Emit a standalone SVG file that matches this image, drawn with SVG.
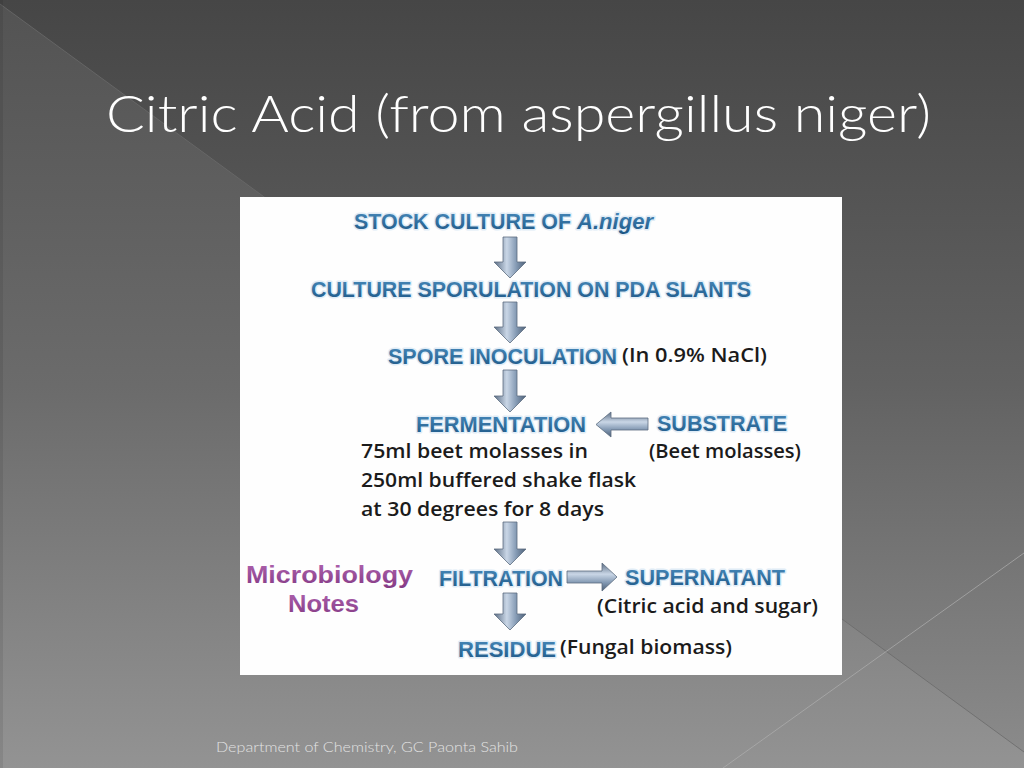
<svg xmlns="http://www.w3.org/2000/svg" width="1024" height="768" viewBox="0 0 1024 768">
<defs>
<linearGradient id="bg" x1="0" y1="0" x2="0" y2="1">
<stop offset="0" stop-color="#464646"/>
<stop offset="0.5" stop-color="#626262"/>
<stop offset="1" stop-color="#8c8c8c"/>
</linearGradient>
<linearGradient id="bgl" x1="0" y1="0" x2="0" y2="1">
<stop offset="0" stop-color="#535353"/>
<stop offset="0.5" stop-color="#6b6b6b"/>
<stop offset="1" stop-color="#939393"/>
</linearGradient>
<linearGradient id="blue" x1="0" y1="0" x2="0" y2="1">
<stop offset="0" stop-color="#4a8cbd"/>
<stop offset="1" stop-color="#1c5685"/>
</linearGradient>
<linearGradient id="purple" x1="0" y1="0" x2="0" y2="1">
<stop offset="0" stop-color="#b064b0"/>
<stop offset="1" stop-color="#843a84"/>
</linearGradient>
<linearGradient id="av" x1="0" y1="0" x2="1" y2="0">
<stop offset="0" stop-color="#5a6c83"/>
<stop offset="0.4" stop-color="#c9d6e6"/>
<stop offset="0.7" stop-color="#8399b3"/>
<stop offset="1" stop-color="#4c5f76"/>
</linearGradient>
<linearGradient id="ah" x1="0" y1="0" x2="0" y2="1">
<stop offset="0" stop-color="#5a6c83"/>
<stop offset="0.4" stop-color="#c9d6e6"/>
<stop offset="0.7" stop-color="#8399b3"/>
<stop offset="1" stop-color="#4c5f76"/>
</linearGradient>
<style>
.title{font-family:Lato,"Open Sans",sans-serif;font-weight:300;font-size:51px;fill:#ffffff}
.foot{font-family:Lato,"Open Sans",sans-serif;font-weight:300;font-size:14px;fill:#e2e2e2}
.hd{font-family:"Liberation Sans Narrow","Liberation Sans",sans-serif;font-weight:bold;font-size:22px;fill:url(#blue);stroke:#e0ecf6;stroke-width:3px;stroke-linejoin:round;paint-order:stroke}
.tx{font-family:"Open Sans","Liberation Sans",sans-serif;font-weight:600;font-size:20px;fill:#1b1b1b}
.pu{font-family:"Liberation Sans",sans-serif;font-weight:bold;font-size:24px;fill:url(#purple)}
.arr{stroke:#5d6d80;stroke-width:0.8}
</style>
</defs>
<g id="background">
<rect width="1024" height="768" fill="url(#bg)"/>
<polygon points="0,4 1024,752 1024,768 0,768" fill="url(#bgl)"/>
<line x1="0" y1="4" x2="1024" y2="752" stroke="#6a6a6a" stroke-width="0.8"/>
<line x1="1024" y1="553" x2="723" y2="768" stroke="#b0b0b0" stroke-width="1" opacity="0.7"/>
<rect x="0" y="0" width="3" height="768" fill="#000" opacity="0.08"/>
</g>
<g id="title">
<text class="title" x="106" y="132" textLength="825" lengthAdjust="spacingAndGlyphs">Citric Acid (from aspergillus niger)</text>
</g>
<g id="footer">
<text class="foot" x="216" y="752" textLength="302" lengthAdjust="spacingAndGlyphs">Department of Chemistry, GC Paonta Sahib</text>
</g>
<g id="panel">
<rect x="240" y="197" width="602" height="478" fill="#fefefe"/>
</g>
<g id="connectors">
<path class="arr" fill="url(#av)" d="M503,237 H517 V262 H526 L510,278 L494,262 H503 Z"/>
<path class="arr" fill="url(#av)" d="M503,302 H517 V327 H526 L510,343 L494,327 H503 Z"/>
<path class="arr" fill="url(#av)" d="M503,370 H517 V396 H526 L510,412 L494,396 H503 Z"/>
<path class="arr" fill="url(#av)" d="M503,522 H517 V549 H526 L510,565 L494,549 H503 Z"/>
<path class="arr" fill="url(#av)" d="M503,593 H517 V614 H526 L510,630 L494,614 H503 Z"/>
<path class="arr" fill="url(#ah)" d="M648,418 V430 H611 V437 L596,424.5 L611,412 V418 Z"/>
<path class="arr" fill="url(#ah)" d="M567,571 H602 V563 L617,577 L602,591 V583 H567 Z"/>
</g>
<g id="node-stock">
<text class="hd" x="354" y="229" textLength="217" lengthAdjust="spacingAndGlyphs">STOCK CULTURE OF</text>
<text class="hd" x="577" y="229" textLength="76" lengthAdjust="spacingAndGlyphs" font-style="italic">A.niger</text>
</g>
<g id="node-sporulation">
<text class="hd" x="311" y="297" textLength="440" lengthAdjust="spacingAndGlyphs">CULTURE SPORULATION ON PDA SLANTS</text>
</g>
<g id="node-inoculation">
<text class="hd" x="388" y="364" textLength="229" lengthAdjust="spacingAndGlyphs">SPORE INOCULATION</text>
<text class="tx" x="622" y="362" textLength="145" lengthAdjust="spacingAndGlyphs">(In 0.9% NaCl)</text>
</g>
<g id="node-fermentation">
<text class="hd" x="416" y="432" textLength="170" lengthAdjust="spacingAndGlyphs">FERMENTATION</text>
<text class="tx" x="361" y="458" textLength="227" lengthAdjust="spacingAndGlyphs">75ml beet molasses in</text>
<text class="tx" x="361" y="487" textLength="275" lengthAdjust="spacingAndGlyphs">250ml buffered shake flask</text>
<text class="tx" x="361" y="516" textLength="243" lengthAdjust="spacingAndGlyphs">at 30 degrees for 8 days</text>
</g>
<g id="node-substrate">
<text class="hd" x="657" y="431" textLength="130" lengthAdjust="spacingAndGlyphs">SUBSTRATE</text>
<text class="tx" x="649" y="458" textLength="152" lengthAdjust="spacingAndGlyphs">(Beet molasses)</text>
</g>
<g id="node-filtration">
<text class="hd" x="439" y="586" textLength="124" lengthAdjust="spacingAndGlyphs">FILTRATION</text>
</g>
<g id="node-supernatant">
<text class="hd" x="625" y="585" textLength="160" lengthAdjust="spacingAndGlyphs">SUPERNATANT</text>
<text class="tx" x="597" y="613" textLength="221" lengthAdjust="spacingAndGlyphs">(Citric acid and sugar)</text>
</g>
<g id="node-residue">
<text class="hd" x="458" y="657" textLength="98" lengthAdjust="spacingAndGlyphs">RESIDUE</text>
<text class="tx" x="560" y="654" textLength="172" lengthAdjust="spacingAndGlyphs">(Fungal biomass)</text>
</g>
<g id="watermark">
<text class="pu" x="246" y="583" textLength="167" lengthAdjust="spacingAndGlyphs">Microbiology</text>
<text class="pu" x="288" y="612" textLength="71" lengthAdjust="spacingAndGlyphs">Notes</text>
</g>
</svg>
